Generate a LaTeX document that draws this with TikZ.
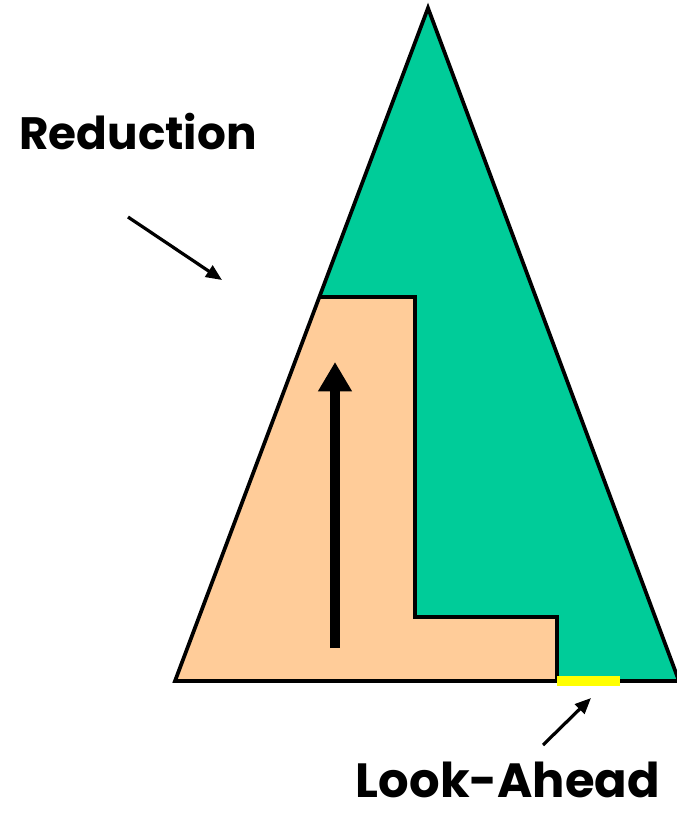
\documentclass[tikz,border=0pt]{standalone}
\usepackage{fontspec}
\setmainfont{Poppins}
\usetikzlibrary{arrows.meta}
\definecolor{treegreen}{HTML}{00CC99}
\definecolor{stackorange}{HTML}{FFCC99}
\definecolor{lookyellow}{HTML}{FFFF00}
\begin{document}
\begin{tikzpicture}[
    x=0.75pt, y=-0.75pt, % pixel grid of the picture
    >={Triangle[length=12pt,width=10pt]},
    outline/.style={draw, line width=2.8pt, line join=miter},
    textlabel/.style={font=\fontsize{34}{40}\selectfont\bfseries, inner sep=0pt, text depth=0pt},
    pointer/.style={draw, ->, line width=2.4pt},
    uparrow/.style={draw, line width=7.5pt, -{Triangle[length=22pt,width=24pt]}}
]
    \useasboundingbox (0,0) rectangle (677,813);

    % corners of the parse tree
    \coordinate (apex) at (428,8);
    \coordinate (left) at (175,681);
    \coordinate (right) at (679,681);

    % corners of the reduced part
    \coordinate (stacktop) at (319,297);
    \coordinate (stackedge) at (415,297);
    \coordinate (stepin) at (415,617);
    \coordinate (stepout) at (557,617);
    \coordinate (stepfoot) at (557,681);

    % the tree and the part already reduced
    \fill[treegreen] (apex) -- (left) -- (right) -- cycle;
    \fill[stackorange] (stacktop) -- (stackedge) -- (stepin) -- (stepout) -- (stepfoot) -- (left) -- cycle;
    \path[outline] (stacktop) -- (stackedge) -- (stepin) -- (stepout) -- (stepfoot);
    \path[outline] (apex) -- (left) -- (right) -- cycle;

    % look-ahead token
    \coordinate (lookend) at (620,681);
    \path[draw, lookyellow, line width=7pt] (stepfoot) -- (lookend);

    % direction of the reductions
    \coordinate (shiftfoot) at (335,648);
    \coordinate (shifthead) at (335,362);
    \path[uparrow] (shiftfoot) -- (shifthead);

    % labels with their pointers
    \node[textlabel, anchor=base] (reduction) at (138,150) {Reduction};
    \coordinate (redtail) at (128,217);
    \coordinate (redtip) at (222,280);
    \path[pointer] (redtail) -- (redtip);

    \node[textlabel, font=\fontsize{36}{42}\selectfont\bfseries, anchor=base] (lookahead) at (508,797) {Look-Ahead};
    \coordinate (looktail) at (543,745);
    \coordinate (looktip) at (591,698);
    \path[pointer] (looktail) -- (looktip);

\end{tikzpicture}
\end{document}
